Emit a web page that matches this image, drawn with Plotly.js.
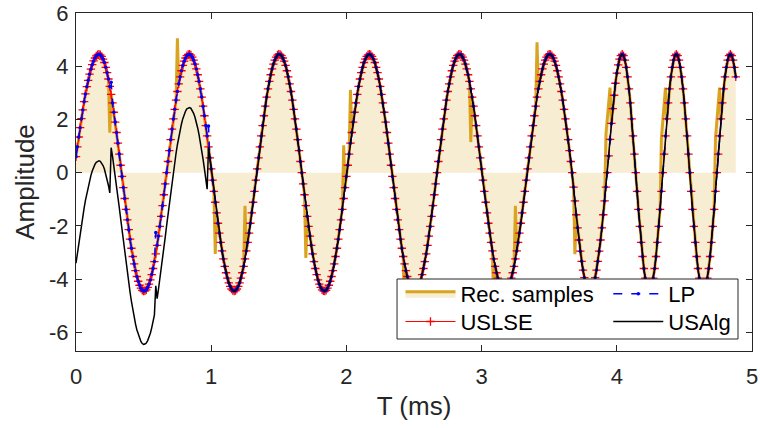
<!DOCTYPE html>
<html><head><meta charset="utf-8">
<script src="https://cdn.plot.ly/plotly-3.0.1.min.js"></script>
<style>html,body{margin:0;padding:0;background:#fff}#chart{width:760px;height:428px}</style>
</head><body><div id="chart"></div>
<script>
// sampling grid (ms)
const T0 = 0;
const DT = 0.01;

// USLSE reconstruction, one value per sample
const uslse = [
0.60,0.97,1.34,1.69,2.03,2.36,2.67,2.96,3.23,3.47,3.70,3.89,4.06,4.20,4.31,4.39,4.43,
4.45,4.43,4.37,4.27,4.14,3.96,3.76,3.52,3.24,2.94,2.62,2.27,1.90,1.51,1.11,0.70,0.28,-0.14,-0.56,-0.97,-1.38,-1.77,-2.14,-2.50,-2.84,-3.15,-3.43,-3.68,-3.90,-4.08,-4.23,-4.34,-4.42,-4.45,-4.44,-4.40,-4.31,-4.19,-4.03,-3.83,-3.60,-3.34,-3.05,-2.73,-2.38,-2.02,-1.64,-1.24,-0.83,-0.42,0,0.42,0.83,1.24,1.64,2.02,2.38,2.73,3.05,3.34,3.60,3.83,4.03,4.19,4.31,4.40,4.44,
4.45,4.42,4.34,4.23,4.08,3.90,3.68,3.43,3.15,2.84,2.50,2.14,1.77,1.38,0.97,0.56,0.14,-0.28,-0.70,-1.11,-1.51,-1.90,-2.27,-2.62,-2.94,-3.24,-3.52,-3.76,-3.96,-4.14,-4.27,-4.37,-4.43,-4.45,-4.43,-4.37,-4.27,-4.14,-3.96,-3.76,-3.52,-3.24,-2.94,-2.62,-2.27,-1.90,-1.51,-1.11,-0.70,-0.28,0.14,0.56,0.97,1.38,1.77,2.14,2.50,2.84,3.15,3.43,3.68,3.90,4.08,4.23,4.34,4.42,4.45,
4.44,4.40,4.31,4.19,4.03,3.83,3.60,3.34,3.05,2.73,2.38,2.02,1.64,1.24,0.83,0.42,0,-0.42,-0.83,-1.24,-1.64,-2.02,-2.38,-2.73,-3.05,-3.34,-3.60,-3.83,-4.03,-4.19,-4.31,-4.40,-4.44,-4.45,-4.42,-4.34,-4.23,-4.08,-3.90,-3.68,-3.43,-3.15,-2.84,-2.50,-2.14,-1.77,-1.38,-0.97,-0.56,-0.14,0.28,0.70,1.11,1.51,1.90,2.27,2.62,2.94,3.24,3.52,3.76,3.96,4.14,4.27,4.37,4.43,
4.45,4.43,4.37,4.27,4.14,3.96,3.76,3.52,3.24,2.94,2.62,2.27,1.90,1.51,1.11,0.70,0.28,-0.14,-0.56,-0.97,-1.38,-1.77,-2.14,-2.50,-2.84,-3.15,-3.43,-3.68,-3.90,-4.08,-4.23,-4.34,-4.42,-4.45,-4.44,-4.40,-4.31,-4.19,-4.03,-3.83,-3.60,-3.34,-3.05,-2.73,-2.38,-2.02,-1.64,-1.24,-0.83,-0.42,0,0.42,0.83,1.24,1.64,2.02,2.38,2.73,3.05,3.34,3.60,3.83,4.03,4.19,4.31,4.40,4.44,
4.45,4.42,4.34,4.23,4.08,3.90,3.68,3.43,3.15,2.84,2.50,2.14,1.77,1.38,0.97,0.56,0.14,-0.28,-0.70,-1.11,-1.51,-1.90,-2.27,-2.62,-2.94,-3.24,-3.52,-3.76,-3.96,-4.14,-4.27,-4.37,-4.43,-4.45,-4.43,-4.37,-4.27,-4.14,-3.96,-3.76,-3.52,-3.24,-2.94,-2.62,-2.27,-1.90,-1.51,-1.11,-0.70,-0.28,0.14,0.56,0.97,1.38,1.77,2.14,2.50,2.84,3.15,3.43,3.68,3.90,4.08,4.23,4.34,4.42,4.45,
4.44,4.40,4.31,4.19,4.03,3.83,3.60,3.34,3.05,2.73,2.38,2.02,1.64,1.24,0.83,0.42,0,
-0.54,-1.06,-1.58,-2.07,-2.53,-2.95,-3.33,-3.66,-3.94,-4.16,-4.32,-4.42,-4.45,-4.42,-4.32,-4.16,-3.94,-3.66,-3.33,-2.95,-2.53,-2.07,-1.58,-1.06,-0.54,0,0.63,1.25,1.85,2.41,2.91,3.36,3.74,4.05,4.27,4.40,4.45,
4.40,4.23,3.96,3.60,3.15,2.62,2.02,1.38,0.70,0,-0.70,-1.38,-2.02,-2.62,-3.15,-3.60,-3.96,-4.23,-4.40,-4.45,-4.40,-4.23,-3.96,-3.60,-3.15,-2.62,-2.02,-1.38,-0.70,0,0.70,1.38,2.02,2.62,3.15,3.60,3.96,4.23,4.40,4.45,
4.40,4.23,3.96,3.60,3.15,2.62,2.02,1.38,0.70,0,-0.70,-1.38,-2.02,-2.62,-3.15,-3.60,-3.96,-4.23,-4.40,-4.45,-4.40,-4.23,-3.96,-3.60,-3.15,-2.62,-2.02,-1.38,-0.70,0,0.70,1.38,2.02,2.62,3.15,3.60,3.96,4.23,4.40,4.45,
4.40,4.23,3.96,3.60
];

// recovered samples that differ from USLSE (sample index, value)
const recIdx = [25, 75, 103, 125, 170, 198, 203, 243, 292, 309, 325, 341, 369, 392, 393, 394, 395, 433, 434, 435, 436, 473, 474, 475, 476];
const recVal = [1.50, 5.05, -3.05, -1.24, -3.20, 1.03, 3.11, -5.43, 1.15, -5.24, -1.24, 4.90, -3.06, 1.46, 2.00, 2.63, 3.20, 1.30, 2.00, 2.70, 3.20, 1.30, 2.00, 2.70, 3.20];

// LP samples that differ from USLSE
const lpIdx = [26, 59, 98];
const lpVal = [3.40, -2.25, 1.75];

// USAlg: first samples (before it locks onto the signal)
const usalgHead = [
-3.40,-3.03,-2.66,-2.31,-1.97,-1.64,-1.33,-1.04,-0.77,-0.53,-0.30,-0.11,0.06,0.20,0.31,0.39,0.43,
0.45,0.43,0.37,0.27,0.14,-0.04,-0.24,-0.48,-0.76,
0.94,0.62,0.27,-0.10,-0.49,-0.89,-1.30,-1.72,-2.14,-2.56,-2.97,-3.38,-3.77,-4.14,-4.50,-4.84,-5.15,-5.43,-5.68,-5.90,-6.08,-6.23,-6.34,-6.42,-6.45,-6.44,-6.40,-6.31,-6.19,-6.03,-5.83,-5.60,-5.34,-4.25,-4.73,-4.38,-4.02,-3.64,-3.24,-2.83,-2.42,-2.00,-1.58,-1.17,-0.76,-0.36,0.02,0.38,0.73,1.05,1.34,1.60,1.83,2.03,2.19,2.31,2.40,2.44,
2.45,2.42,2.34,2.23,2.08,1.90,1.68,1.43,1.15,0.84,0.50,0.14,-0.23,-0.62
];

const xTicks = [0, 1, 2, 3, 4, 5];
const yTicks = [-6, -4, -2, 0, 2, 4, 6];
const yTickText = ['-6', '-4', '-2', '0', '2', '4', '6'];
const seriesNames = ['Rec. samples', 'USLSE', 'LP', 'USAlg'];

const rec = uslse.slice();
recIdx.forEach((k, j) => { rec[k] = recVal[j]; });
const lp = uslse.slice();
lpIdx.forEach((k, j) => { lp[k] = lpVal[j]; });
const usalg = usalgHead.concat(uslse.slice(usalgHead.length));

const FONT = 'Liberation Sans, Arial, Helvetica, sans-serif';
const AX = '#262626';

const traces = [
  {y: rec, x0: T0, dx: DT, type: 'scatter', mode: 'lines', name: seriesNames[0],
   line: {color: '#D9A521', width: 3}, fill: 'tozeroy', fillcolor: 'rgba(217,165,33,0.2)',
   legend: 'legend'},
  {y: uslse, x0: T0, dx: DT, type: 'scatter', mode: 'lines+markers', name: seriesNames[1],
   line: {color: '#FF0000', width: 1},
   marker: {symbol: 'cross-thin-open', size: 6, color: '#FF0000', line: {color: '#FF0000', width: 1.3}},
   legend: 'legend3'},
  {y: lp, x0: T0, dx: DT, type: 'scatter', mode: 'lines+markers', name: seriesNames[2],
   line: {color: '#0000FF', width: 1.5, dash: 'dash'},
   marker: {symbol: 'circle', size: 3.5, color: '#0000FF'},
   legend: 'legend2'},
  {y: usalg, x0: T0, dx: DT, type: 'scatter', mode: 'lines', name: seriesNames[3],
   line: {color: '#000000', width: 1.5},
   legend: 'legend4'}
];

const legendCommon = {
  orientation: 'v', xanchor: 'left', yanchor: 'middle',
  bgcolor: 'rgba(0,0,0,0)', borderwidth: 0, itemwidth: 50,
  font: {family: FONT, size: 22, color: '#000'}, tracegroupgap: 0
};
const colX = [0.48, 0.7874];
const rowY = [0.1686, 0.0867];

const layout = {
  width: 760, height: 428,
  margin: {l: 76, r: 8, t: 13, b: 77, pad: 0},
  paper_bgcolor: '#fff', plot_bgcolor: '#fff',
  font: {family: FONT, color: AX},
  showlegend: true,
  legend: Object.assign({}, legendCommon, {x: colX[0], y: rowY[0]}),
  legend2: Object.assign({}, legendCommon, {x: colX[1], y: rowY[0]}),
  legend3: Object.assign({}, legendCommon, {x: colX[0], y: rowY[1]}),
  legend4: Object.assign({}, legendCommon, {x: colX[1], y: rowY[1]}),
  xaxis: {
    range: [0, 5], tickvals: xTicks, ticks: 'inside', ticklen: 6, tickwidth: 1, tickcolor: AX,
    showline: true, linecolor: AX, linewidth: 1, mirror: 'ticks', showgrid: false, zeroline: false,
    tickfont: {family: FONT, size: 22, color: AX}, ticklabelstandoff: 6,
    title: {text: 'T (ms)', font: {family: FONT, size: 26, color: AX}, standoff: 8}
  },
  yaxis: {
    range: [-6.7, 6], tickvals: yTicks, ticktext: yTickText, ticks: 'inside', ticklen: 6, tickwidth: 1, tickcolor: AX,
    showline: true, linecolor: AX, linewidth: 1, mirror: 'ticks', showgrid: false, zeroline: false,
    tickfont: {family: FONT, size: 22, color: AX}, ticklabelstandoff: 2,
    title: {text: 'Amplitude', font: {family: FONT, size: 26, color: AX}, standoff: 6}
  },
  shapes: [{
    type: 'rect', xref: 'paper', yref: 'paper', x0: 0.4749, x1: 0.9793, y0: 0.0355, y1: 0.2130,
    fillcolor: '#fff', line: {color: AX, width: 1}, layer: 'above'
  }]
};

Plotly.newPlot('chart', traces, layout, {displayModeBar: false, staticPlot: true});
</script>
</body></html>
